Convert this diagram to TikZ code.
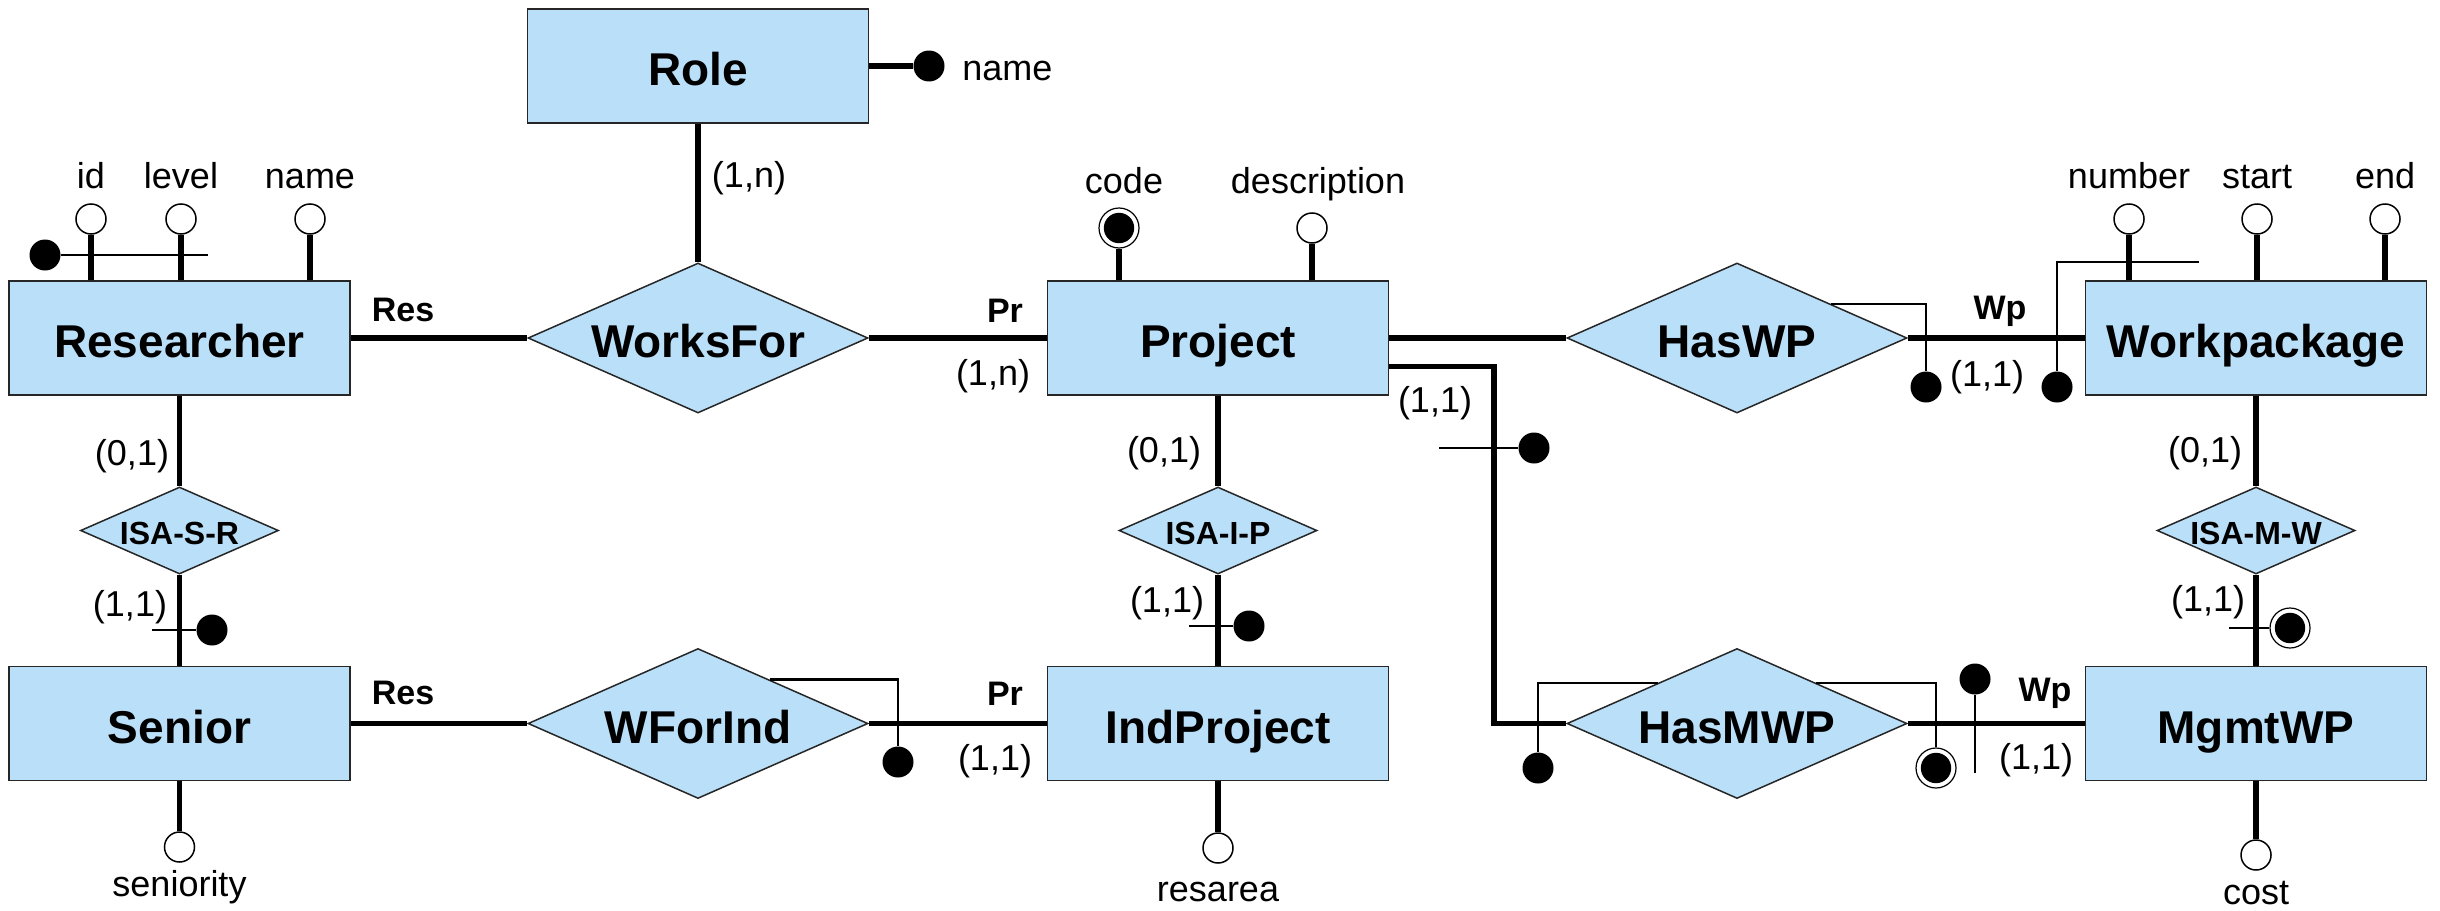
\documentclass[tikz,border=0pt]{standalone}
\usepackage{fontspec}
\setmainfont{Liberation Sans}
\usetikzlibrary{shapes.geometric,calc}
\definecolor{erblue}{RGB}{186,223,248}
\tikzset{
  entity/.style={draw=black!85, fill=erblue, line width=0.75pt, minimum width=170.5pt, minimum height=57pt,
    inner sep=0pt, font=\fontsize{23}{27}\selectfont\bfseries, text height=19.5pt, text depth=0pt},
  relation/.style={diamond, draw=black!85, fill=erblue, line width=0.75pt, aspect=2.27, minimum width=170pt,
    minimum height=75pt, inner sep=0pt, font=\fontsize{23}{27}\selectfont\bfseries, text height=19.5pt, text depth=0pt},
  isa/.style={relation, minimum width=99pt, minimum height=43.5pt, font=\fontsize{16}{19}\selectfont\bfseries,
    text height=13.6pt},
  attr/.style={circle, draw=black, fill=white, line width=0.75pt, minimum size=15pt, inner sep=0pt},
  keyfull/.style={circle, fill=black, minimum size=15.5pt, inner sep=0pt},
  keydouble/.style={circle, draw=black, fill=white, line width=0.6pt, minimum size=20pt, inner sep=0pt,
    path picture={\fill[black] (path picture bounding box.center) circle (7.6pt);}},
  conn/.style={line width=2.6pt},
  idline/.style={line width=1.1pt},
  attrlabel/.style={anchor=base, inner sep=0pt, font=\fontsize{18}{21}\selectfont},
  card/.style={inner sep=0pt, font=\fontsize{18}{21}\selectfont},
  rolelabel/.style={inner sep=0pt, font=\fontsize{17}{20}\selectfont\bfseries},
}
\begin{document}
\begin{tikzpicture}[x=0.5pt,y=-0.5pt]
  \useasboundingbox (0,0) rectangle (2440,910);
  % Entities
  \node[entity] (role) at (698,66) {Role};
  \node[entity] (researcher) at (179.5,338) {Researcher};
  \node[entity] (project) at (1218,338) {Project};
  \node[entity] (workpackage) at (2256,338) {Workpackage};
  \node[entity] (senior) at (179.5,723.5) {Senior};
  \node[entity] (indproject) at (1218,723.5) {IndProject};
  \node[entity] (mgmtwp) at (2256,723.5) {MgmtWP};
  % Relationships
  \node[relation] (worksfor) at (698,338) {WorksFor};
  \node[relation] (haswp) at (1737,338) {HasWP};
  \node[relation] (wforind) at (698,723.5) {WForInd};
  \node[relation] (hasmwp) at (1737,723.5) {HasMWP};
  \node[isa] (isasr) at (179.5,530.5) {ISA-S-R};
  \node[isa] (isaip) at (1218,530.5) {ISA-I-P};
  \node[isa] (isamw) at (2256,530.5) {ISA-M-W};
  % Links
  \draw[conn] (role) -- (worksfor);
  \draw[conn] (researcher) -- (worksfor);
  \draw[conn] (worksfor) -- (project);
  \draw[conn] (project) -- (haswp);
  \draw[conn] (haswp) -- (workpackage);
  \draw[conn] (researcher) -- (isasr);
  \draw[conn] (isasr) -- (senior);
  \draw[conn] (project) -- (isaip);
  \draw[conn] (isaip) -- (indproject);
  \draw[conn] (workpackage) -- (isamw);
  \draw[conn] (isamw) -- (mgmtwp);
  \draw[conn] (senior) -- (wforind);
  \draw[conn] (wforind) -- (indproject);
  \draw[conn] (hasmwp) -- (mgmtwp);
  \coordinate (pstart) at ($(project.south east)!0.25!(project.north east)$);
  \coordinate (mwpcorner) at (1494,723.5);
  \draw[conn] (pstart) -| (mwpcorner) -- (hasmwp.west);
  % Attributes
  \foreach \nm/\x/\txt in {rid/91/id, rlev/181/level, rnam/310/name} {
    \node[attr] (\nm) at (\x,219) {};
    \node[attrlabel] (\nm-t) at (\x,188) {\txt};
    \draw[conn] (researcher.north -| \nm) -- (\nm);
  }
  \foreach \nm/\x/\txt in {wnum/2129/number, wsta/2257/start, wend/2385/end} {
    \node[attr] (\nm) at (\x,219) {};
    \node[attrlabel] (\nm-t) at (\x,188) {\txt};
    \draw[conn] (workpackage.north -| \nm) -- (\nm);
  }
  \node[keydouble] (pcode) at (1119,228) {};
  \node[attrlabel] (pcode-t) at (1124,193) {code};
  \draw[conn] (project.north -| pcode) -- (pcode);
  \node[attr] (pdesc) at (1312,228) {};
  \node[attrlabel] (pdesc-t) at (1318,193) {description};
  \draw[conn] (project.north -| pdesc) -- (pdesc);
  \node[keyfull] (rolename) at (929,66) {};
  \node[attrlabel, anchor=base west] (rolename-t) at (962,80) {name};
  \draw[conn] (role) -- (rolename);
  \foreach \ent/\nm/\x/\y/\b/\txt in {senior/sen/179.5/847/896/seniority, indproject/ira/1218/848/901/resarea,
      mgmtwp/cost/2256/855/904/cost} {
    \node[attr] (\nm) at (\x,\y) {};
    \node[attrlabel] (\nm-t) at (\x,\b) {\txt};
    \draw[conn] (\ent) -- (\nm);
  }
  % Identifiers
  \node[keyfull] (ridk) at (45,255) {};
  \coordinate (ridend) at (208,255);
  \draw[idline] (ridk) -- (ridend);
  \foreach \nm/\x/\y/\tx/\kind in {srk/212/630/152/keyfull, ipk/1249/626/1189/keyfull,
      mwk/2290/628/2229/keydouble, pmk/1534/448/1439/keyfull} {
    \node[\kind] (\nm) at (\x,\y) {};
    \coordinate (\nm-end) at (\tx,\y);
    \draw[idline] (\nm-end) -- (\nm);
  }
  \node[keyfull] (wfk) at (898,762) {};
  \draw[idline] ($(wforind.east)!0.58!(wforind.north)$) -| (wfk);
  \node[keyfull] (hwk) at (1926,387) {};
  \draw[idline] ($(haswp.east)!0.45!(haswp.north)$) -| (hwk);
  \node[keyfull] (wpk) at (2057,387) {};
  \coordinate (wpend) at (2199,262);
  \draw[idline] (wpk) |- (wpend);
  \node[keyfull] (hmk) at (1538,768) {};
  \draw[idline] ($(hasmwp.west)!0.54!(hasmwp.north)$) -| (hmk);
  \node[keydouble] (hmd) at (1936,768) {};
  \draw[idline] ($(hasmwp.east)!0.54!(hasmwp.north)$) -| (hmd);
  \node[keyfull] (mwpk) at (1975,679) {};
  \coordinate (mwpend) at (1975,773);
  \draw[idline] (mwpk) -- (mwpend);
  % Roles
  \node[rolelabel] (r1) at (403,310) {Res};
  \node[rolelabel] (r2) at (403,693) {Res};
  \node[rolelabel] (r3) at (1005,311) {Pr};
  \node[rolelabel] (r4) at (1005,694) {Pr};
  \node[rolelabel] (r5) at (2000,311) {Wp};
  \node[rolelabel] (r6) at (2045,693) {Wp};
  % Cardinalities
  \node[card] (c1) at (749,178) {(1,n)};
  \node[card] (c2) at (132,456) {(0,1)};
  \node[card] (c3) at (130,607) {(1,1)};
  \node[card] (c4) at (993,376) {(1,n)};
  \node[card] (c5) at (1435,403) {(1,1)};
  \node[card] (c6) at (1164,453) {(0,1)};
  \node[card] (c7) at (1167,603) {(1,1)};
  \node[card] (c8) at (995,761) {(1,1)};
  \node[card] (c9) at (1987,377) {(1,1)};
  \node[card] (c10) at (2205,453) {(0,1)};
  \node[card] (c11) at (2208,602) {(1,1)};
  \node[card] (c12) at (2036,760) {(1,1)};
\end{tikzpicture}
\end{document}
